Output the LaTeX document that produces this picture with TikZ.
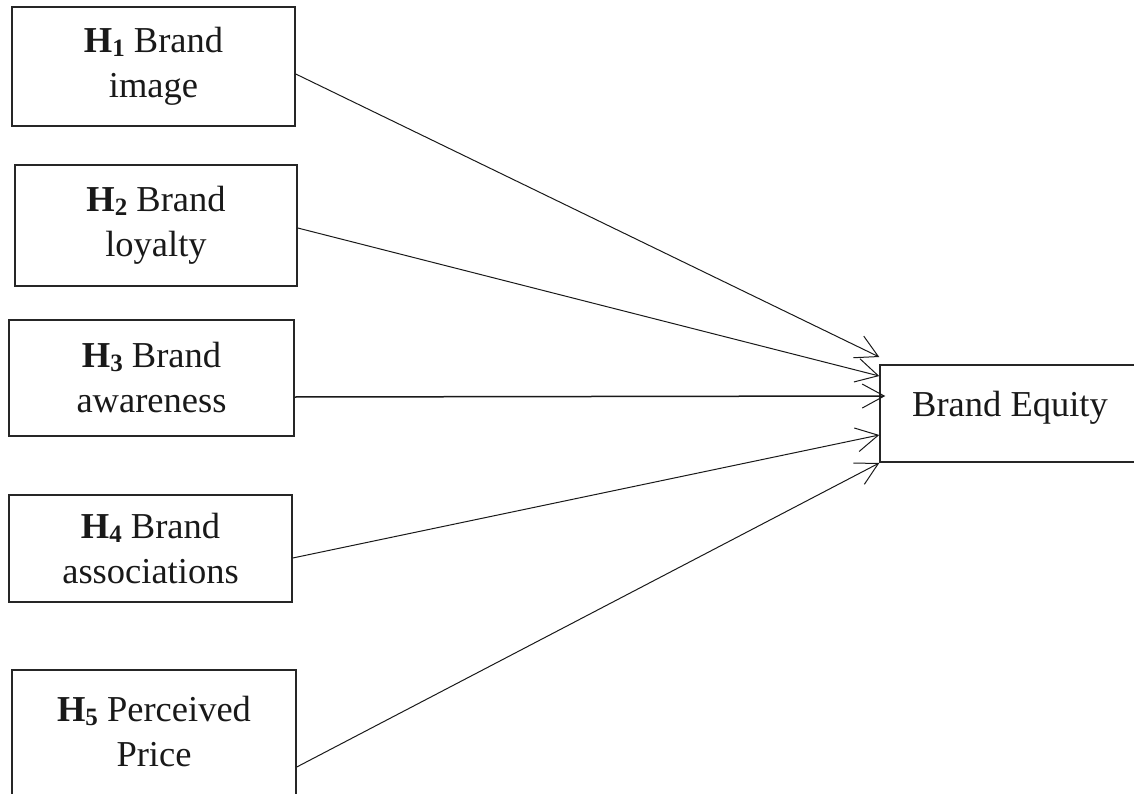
\documentclass[tikz,border=0pt]{standalone}
\usepackage{fontspec}
\setmainfont{Liberation Serif}
\usetikzlibrary{arrows.meta}
\begin{document}
\begin{tikzpicture}[x=1pt,y=-1pt,
  hbox/.style={draw=black!85,line width=1.5pt,rectangle,align=center,inner sep=0pt,
    font=\fontsize{36.5}{45}\selectfont,text=black!90},
  arr/.style={draw=black!90,line width=1pt,-{Straight Barb[length=22pt,width=24pt,line width=1pt]}}]
\useasboundingbox (0,0) rectangle (1134,794);
\clip (0,0) rectangle (1134,794);
\newcommand{\hyp}[1]{\textbf{H\raisebox{-4pt}{\fontsize{25}{25}\selectfont\bfseries #1}}}
\node[hbox,minimum width=283pt,minimum height=119pt] (H1) at (153.5,66.5) {\hyp{1} Brand\\image};
\node[hbox,minimum width=282pt,minimum height=121pt] (H2) at (156,225.5) {\hyp{2} Brand\\loyalty};
\node[hbox,minimum width=285pt,minimum height=116pt] (H3) at (151.5,378) {\hyp{3} Brand\\awareness};
\node[hbox,minimum width=283pt,minimum height=107pt] (H4) at (150.5,548.5) {\hyp{4} Brand\\associations};
\node[hbox,minimum width=284pt,minimum height=130pt] (H5) at (154,735) {\raisebox{10pt}{\begin{tabular}{@{}c@{}}\hyp{5} Perceived\\Price\end{tabular}}};
\node[hbox,minimum width=260pt,minimum height=97pt] (BE) at (1010,413.5) {\raisebox{20pt}{Brand Equity}};
\draw[arr] ([yshift=-7.5pt]H1.east) -- ([yshift=56.5pt]BE.west);
\draw[arr] ([yshift=-2.5pt]H2.east) -- ([yshift=37.5pt]BE.west);
\draw[arr,line width=1.5pt] ([yshift=-19pt]H3.east) -- ([yshift=17.5pt,xshift=6pt]BE.west);
\draw[arr] ([yshift=-9.5pt]H4.east) -- ([yshift=-21.5pt]BE.west);
\draw[arr] ([yshift=-32pt]H5.east) -- ([yshift=-49.5pt]BE.west);
\end{tikzpicture}
\end{document}
